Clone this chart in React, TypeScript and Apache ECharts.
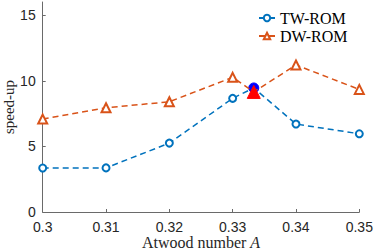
import React, { useEffect, useRef } from "react";
import * as echarts from "echarts";

const xValues = [0.3, 0.31, 0.32, 0.33, 1 / 3, 0.34, 0.35];
const twRom = [3.35, 3.36, 5.25, 8.66, 9.45, 6.7, 5.96];
const dwRom = [7.08, 7.94, 8.4, 10.26, 9.15, 11.2, 9.34];
const specialIndex = 4;
const yTicks = [0, 5, 10, 15];
const seriesNames = ["TW-ROM", "DW-ROM"];

const BLUE = "#0072BD";
const ORANGE = "#D95319";
const SERIF = "Liberation Serif";
const SANS = "Liberation Sans";

function buildData(vals: number[], special: any) {
  return vals.map((v, i) =>
    i === specialIndex ? { value: [xValues[i], v], ...special } : { value: [xValues[i], v] }
  );
}

export default function App() {
  const ref = useRef<HTMLDivElement>(null);
  useEffect(() => {
    document.body.style.margin = "0";
    const chart = echarts.init(ref.current!, null, { renderer: "svg" });
    chart.setOption({
      animation: false,
      backgroundColor: "#ffffff",
      grid: {
        left: 42.7,
        right: 14.7,
        top: 2,
        bottom: 39,
        containLabel: false,
        outerBoundsMode: "none",
      },
      legend: {
        orient: "vertical",
        left: 253,
        top: 5,
        itemWidth: 16,
        itemHeight: 8,
        itemGap: 2,
        data: seriesNames,
        textStyle: { fontFamily: SERIF, fontSize: 16, fontWeight: "normal", color: "#000" },
      },
      xAxis: {
        type: "value",
        min: 0.3,
        max: 0.35,
        interval: 0.01,
        name: "{n|Atwood number }{i|A}",
        nameLocation: "middle",
        nameGap: 22,
        nameMoveOverlap: false,
        nameTextStyle: {
          rich: {
            n: { fontFamily: SERIF, fontSize: 16, color: "#262626", lineHeight: 16 },
            i: { fontFamily: SERIF, fontSize: 16, fontStyle: "italic", color: "#262626", lineHeight: 16 },
          },
        },
        axisLine: { lineStyle: { color: "#6a6a6a", width: 1 } },
        axisTick: { inside: true, length: 3, lineStyle: { color: "#6a6a6a" } },
        splitLine: { show: false },
        axisLabel: {
          margin: 9,
          fontFamily: SANS,
          fontSize: 14,
          lineHeight: 12,
          color: "#262626",
          formatter: (v: number) => String(+v.toFixed(2)),
        },
      },
      yAxis: {
        type: "value",
        min: 0,
        max: 16,
        name: "speed-up",
        nameLocation: "middle",
        nameGap: 26,
        nameMoveOverlap: false,
        nameTextStyle: { fontFamily: SERIF, fontSize: 15, color: "#262626" },
        axisLine: { show: true, lineStyle: { color: "#6a6a6a", width: 1 } },
        axisTick: { show: true, inside: true, length: 3, customValues: yTicks, lineStyle: { color: "#6a6a6a" } },
        splitLine: { show: false },
        axisLabel: {
          margin: 7,
          fontFamily: SANS,
          fontSize: 14,
          color: "#262626",
          customValues: yTicks,
        },
      },
      series: [
        {
          name: seriesNames[0],
          type: "line",
          data: buildData(twRom, {
            symbol: "circle",
            symbolSize: 10,
            itemStyle: { color: "#0000ff", borderColor: "#0000ff", borderWidth: 1 },
          }),
          symbol: "emptyCircle",
          symbolSize: 7,
          color: BLUE,
          itemStyle: { color: BLUE, borderColor: BLUE, borderWidth: 1.5 },
          lineStyle: { color: BLUE, width: 1.5, type: [6, 4] },
          z: 2,
        },
        {
          name: seriesNames[1],
          type: "line",
          data: buildData(dwRom, {
            symbol: "triangle",
            symbolSize: 13,
            itemStyle: { color: "#ff0000", borderColor: "#ff0000", borderWidth: 1 },
          }),
          symbol: "emptyTriangle",
          symbolSize: 9,
          color: ORANGE,
          itemStyle: { color: ORANGE, borderColor: ORANGE, borderWidth: 1.5 },
          lineStyle: { color: ORANGE, width: 1.5, type: [6, 4] },
          z: 3,
        },
      ],
    });
    return () => chart.dispose();
  }, []);
  return (
    <div
      ref={ref}
      style={{ width: 374, height: 251, position: "fixed", left: 0, top: 0 }}
    />
  );
}
